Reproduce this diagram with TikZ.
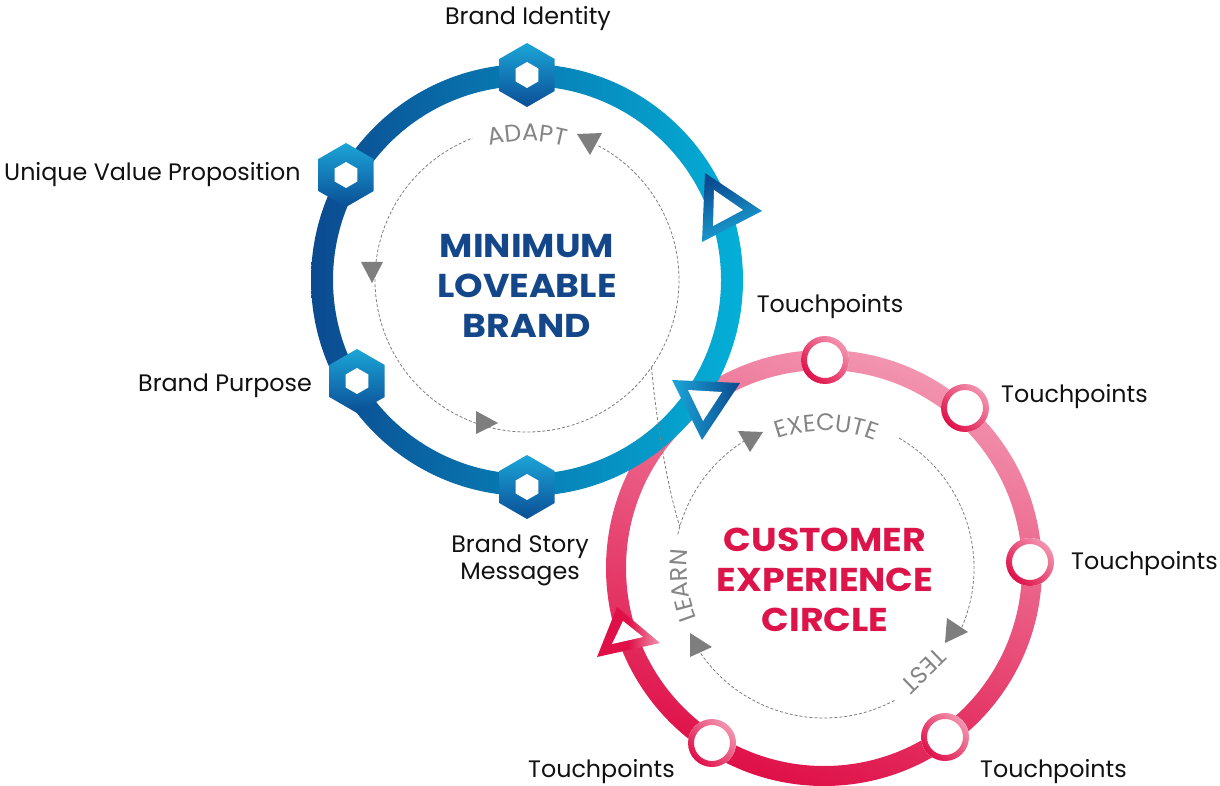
\documentclass[tikz,border=0pt]{standalone}
\usepackage{fontspec}
\setmainfont{Poppins}
\newfontfamily\titlefont[FakeStretch=1.1]{Poppins}
\usetikzlibrary{decorations.text}
\definecolor{blueD}{HTML}{0B4A90}
\definecolor{blueL}{HTML}{04B0D8}
\definecolor{hexTop}{HTML}{1CA6D8}
\definecolor{hexBot}{HTML}{0A4E96}
\definecolor{pinkL}{HTML}{F294B0}
\definecolor{pinkD}{HTML}{DF1048}
\definecolor{titleBlue}{HTML}{14468A}
\definecolor{titleRed}{HTML}{DC1449}
\definecolor{arrGray}{HTML}{7E7E7E}
\definecolor{txtGray}{HTML}{858585}
\definecolor{lblBlack}{HTML}{111111}
\begin{document}
\begin{tikzpicture}[x=1pt,y=-1pt,
  lbl/.style={font=\fontsize{23.8}{27}\selectfont, text=lblBlack, inner sep=0pt},
  titletext/.style={font=\titlefont\fontsize{33}{40}\selectfont\bfseries, align=center, inner sep=0pt},
  dashline/.style={draw=arrGray, line width=0.8pt, dash pattern=on 3pt off 2pt},
  grayarrow/.style={fill=arrGray},
  hexpic/.pic={
    \shade[top color=hexTop, bottom color=hexBot]
      (90:32)--(150:32)--(210:32)--(270:32)--(330:32)--(30:32)--cycle;
    \fill[white] (90:13)--(150:13)--(210:13)--(270:13)--(330:13)--(30:13)--cycle;
  },
  touchpic/.pic={
    \fill[white] (0,0) circle[radius=24];
    \shade[even odd rule, top color=pinkL, bottom color=pinkD, shading angle=-45]
      (0,0) circle[radius=24] (0,0) circle[radius=18];
  }
]
\useasboundingbox (0,0) rectangle (1220,786);
\fill[white] (0,0) rectangle (1220,786);

% ---- pink ring ----
\shade[even odd rule, top color=pinkL, bottom color=pinkD, shading angle=-20]
  (824,568) circle[radius=218] (824,568) circle[radius=198];

% ---- blue ring ----
\shade[even odd rule, left color=blueD, right color=blueL]
  (527,280) circle[radius=216] (527,280) circle[radius=194];

% ---- dashed loops ----
\coordinate (bc) at (527,280);
\coordinate (pc) at (824,568);
\coordinate (jb) at (651.5,367.2);
\coordinate (jp) at (679.8,526.7);
\draw[dashline] (527,280) ++(-62:152) arc[start angle=-62, end angle=249, radius=152];
\draw[dashline] (jb) .. controls (656,420) and (668,490) .. (jp);
\draw[dashline] (824,568) ++(300:150) arc[start angle=300, end angle=385, radius=150];
\draw[dashline] (824,568) ++(62:150) arc[start angle=62, end angle=150, radius=150];
\draw[dashline] (824,568) ++(193:150) arc[start angle=193, end angle=243, radius=150];

% ---- curved gray words ----
\path[decorate, decoration={text along path, text align=center,
  text={|\fontsize{24}{24}\selectfont\color{txtGray}|ADAPT}}]
  (527,280) ++(-112:139) arc[start angle=-112, end angle=-68, radius=139];
\path[decorate, decoration={text along path, text align=center,
  text={|\fontsize{24}{24}\selectfont\color{txtGray}|EXECUTE}}]
  (824,568) ++(236:137) arc[start angle=236, end angle=306, radius=137];
\node[font=\fontsize{24}{24}\selectfont, text=txtGray, inner sep=0pt, rotate=224]
  (test) at (923.5,671) {TEST};
\path[decorate, decoration={text along path, text align=center,
  text={|\fontsize{24}{24}\selectfont\color{txtGray}|LEARN}}]
  (824,568) ++(148:137) arc[start angle=148, end angle=198, radius=137];

% ---- gray arrowheads ----
\fill[grayarrow] (577,134) -- (602,133) -- (590,155) -- cycle;
\fill[grayarrow] (361,262) -- (383,262) -- (372,283) -- cycle;
\fill[grayarrow] (476,411) -- (498,423) -- (476,434) -- cycle;
\fill[grayarrow] (738,431) -- (763,432) -- (750,452) -- cycle;
\fill[grayarrow] (947,618) -- (968,632) -- (945,643) -- cycle;
\fill[grayarrow] (690,633) -- (712,647) -- (690,657) -- cycle;

% ---- hexagons ----
\pic (hexA) at (527,75) {hexpic};
\pic (hexB) at (346,175) {hexpic};
\pic (hexC) at (357,381) {hexpic};
\pic (hexD) at (527,487) {hexpic};

% ---- open triangles ----
\shade[top color=blueD, bottom color=hexTop, shading angle=20]
  (705,173) -- (762,211) -- (702,242) -- cycle;
\fill[white] (714,190) -- (743,210) -- (713,226) -- cycle;
\shade[left color=hexTop, right color=blueD]
  (672,380) -- (740,383) -- (702,440) -- cycle;
\fill[white] (688,390) -- (722,392) -- (703,421) -- cycle;
\shade[left color=pinkD, right color=pinkL, middle color=pinkD]
  (617,607) -- (660,643) -- (597,657) -- cycle;
\fill[white] (623,621) -- (643,637) -- (612,644) -- cycle;

% ---- touchpoint circles ----
\pic (tpA) at (825,360) {touchpic};
\pic (tpB) at (965,408) {touchpic};
\pic (tpC) at (1030,562) {touchpic};
\pic (tpD) at (945,737) {touchpic};
\pic (tpE) at (712,743) {touchpic};

% ---- titles ----
\node[titletext, text=titleBlue] (mlb) at (527,286) {MINIMUM\\LOVEABLE\\BRAND};
\node[titletext, text=titleRed] (cec) at (825,580) {CUSTOMER\\EXPERIENCE\\CIRCLE};

% ---- labels ----
\node[lbl] (lbi) at (528,19) {Brand Identity};
\node[lbl, anchor=west] (luvp) at (4,175) {Unique Value Proposition};
\node[lbl, anchor=east] (lbp) at (312,386) {Brand Purpose};
\node[lbl, align=center] (lbs) at (520,560) {Brand Story\\Messages};
\node[lbl] (lt1) at (830,307) {Touchpoints};
\node[lbl, anchor=west] (lt2) at (1001,397) {Touchpoints};
\node[lbl, anchor=west] (lt3) at (1071,564) {Touchpoints};
\node[lbl, anchor=west] (lt4) at (980,772) {Touchpoints};
\node[lbl, anchor=west] (lt5) at (528,772) {Touchpoints};
\end{tikzpicture}
\end{document}
